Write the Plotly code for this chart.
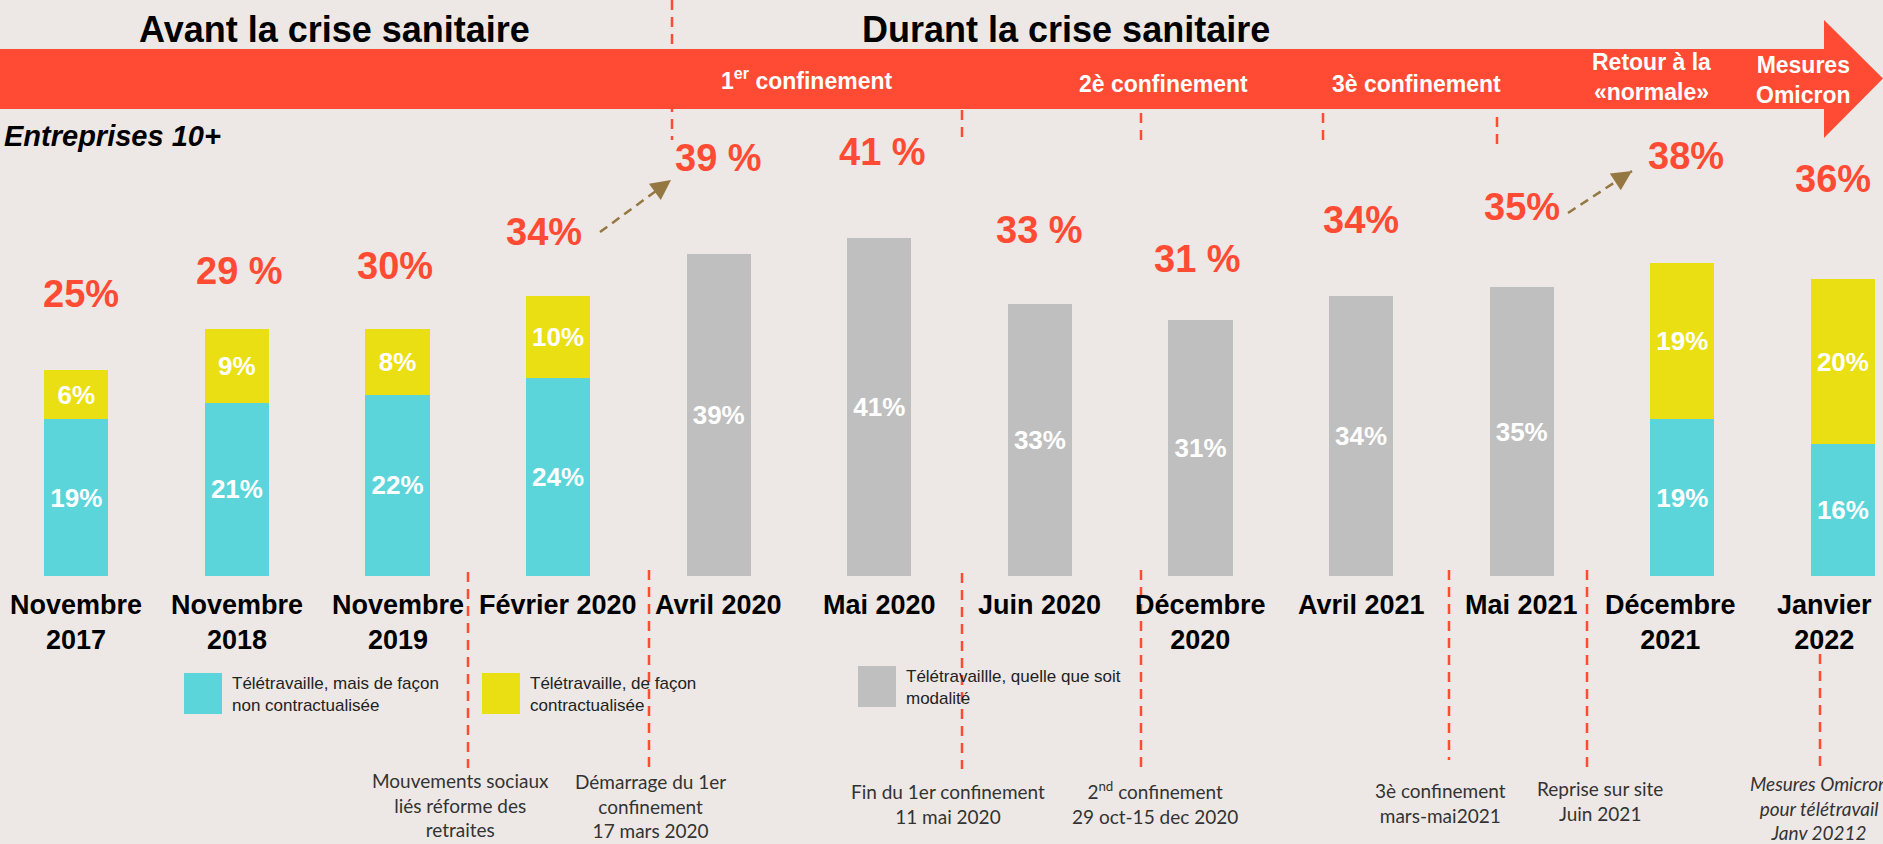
import plotly.graph_objects as go

# --- données ---
periodes = ["Novembre<br>2017", "Novembre<br>2018", "Novembre<br>2019", "Février 2020",
            "Avril 2020", "Mai 2020", "Juin 2020", "Décembre<br>2020",
            "Avril 2021", "Mai 2021", "Décembre<br>2021", "Janvier<br>2022"]
non_contract = [19, 21, 22, 24, None, None, None, None, None, None, 19, 16]
contract = [6, 9, 8, 10, None, None, None, None, None, None, 19, 20]
quelle_que_soit = [None, None, None, None, 39, 41, 33, 31, 34, 35, None, None]
totaux = ["25%", "29 %", "30%", "34%", "39 %", "41 %", "33 %", "31 %", "34%", "35%", "38%", "36%"]

# --- mise en page ---
W, H = 1883, 844
BASE = 576        # ligne de base des barres (px)
SCALE = 8.25      # px par point de %
X0, STEP = 76.3, 160.6

BG = "#EDE8E5"
RED = "#FF4B33"
CYAN = "#5BD5DA"
YELLOW = "#EADF12"
GREY = "#BFBFBF"
BROWN = "#957741"
FONT = "Liberation Sans, Arial, sans-serif"
NOTE_FONT = "Lato, Carlito, sans-serif"

# décalages (px) des totaux et des libellés
total_lift = [76, 58, 63, 64, 96, 86, 74, 61, 76, 80, 107, 100]
total_shift = [5, 3, -3, -14, 0, 3, 0, -3, 0, 0, 4, -10]
label_shift = [0, 0, 0, 0, 0, 0, 0, 0, 0, 0, -12, -18]


def px(x):
    return x / W


def py(y):
    return 1 - y / H


fig = go.Figure()

for name, vals, col in [("Télétravaille, mais de façon non contractualisée", non_contract, CYAN),
                        ("Télétravaille, de façon contractualisée", contract, YELLOW),
                        ("Télétravaillle, quelle que soit modalité", quelle_que_soit, GREY)]:
    fig.add_trace(go.Bar(
        x=list(range(len(periodes))),
        y=vals,
        name=name,
        width=0.4,
        marker=dict(color=col, line=dict(width=0)),
        text=[f"<b>{v}%</b>" if v is not None else "" for v in vals],
        textposition="inside",
        insidetextanchor="middle",
        textangle=0,
        constraintext="none",
        textfont=dict(color="white", size=26, family=FONT),
        hoverinfo="skip",
        showlegend=False,
    ))

annotations = []
shapes = []

# totaux et libellés de périodes
for i, lab in enumerate(periodes):
    top = sum(v for v in (non_contract[i], contract[i], quelle_que_soit[i]) if v is not None)
    annotations.append(dict(x=i, y=top, xref="x", yref="y", text=f"<b>{totaux[i]}</b>",
                            showarrow=False, yanchor="middle", yshift=total_lift[i],
                            xshift=total_shift[i],
                            font=dict(color=RED, size=38, family=FONT)))
    annotations.append(dict(x=i, y=0, xref="x", yref="y", text=f"<b>{lab}</b>",
                            showarrow=False, yanchor="top", yshift=-12, xshift=label_shift[i],
                            font=dict(color="black", size=27, family=FONT)))

# lignes pointillées rouges
dashes = [(672, 0, 140), (962, 110, 138), (1141, 113, 142), (1323, 113, 140), (1497, 117, 146),
          (468, 572, 768), (649, 570, 767), (962, 573, 769), (1141, 570, 767),
          (1449, 570, 760), (1587, 570, 767), (1820, 637, 771)]
for x, y0, y1 in dashes:
    shapes.append(dict(type="line", xref="paper", yref="paper", x0=px(x), x1=px(x),
                       y0=py(y0), y1=py(y1), line=dict(color=RED, width=2.5, dash="10px,7px")))

# flèche chronologique
pts = [(0, 49), (1824, 49), (1824, 20), (1883, 78.5), (1824, 138), (1824, 109), (0, 109)]
path = "M " + " L ".join(f"{px(a):.5f},{py(b):.5f}" for a, b in pts) + " Z"
shapes.append(dict(type="path", xref="paper", yref="paper", path=path,
                   fillcolor=RED, line=dict(width=0)))

# légende
for (x0, y0), col, txt in [((184, 673), CYAN, "Télétravaille, mais de façon<br>non contractualisée"),
                           ((482, 673), YELLOW, "Télétravaille, de façon<br>contractualisée"),
                           ((858, 666), GREY, "Télétravaillle, quelle que soit<br>modalité")]:
    shapes.append(dict(type="rect", xref="paper", yref="paper", x0=px(x0), x1=px(x0 + 38),
                       y0=py(y0), y1=py(y0 + 41), fillcolor=col, line=dict(width=0)))
    annotations.append(dict(x=px(x0 + 46), y=py(y0 + 21), xref="paper", yref="paper", text=txt,
                            showarrow=False, xanchor="left", yanchor="middle", align="left",
                            font=dict(color="#222222", size=17, family=FONT)))

# flèches brunes pointillées
for (xa, ya), (xb, yb) in [((600, 232), (671, 180)), ((1568, 213), (1632, 171))]:
    shapes.append(dict(type="line", xref="paper", yref="paper", x0=px(xa), y0=py(ya),
                       x1=px(xb), y1=py(yb), line=dict(color=BROWN, width=2.5, dash="9px,6px")))
    d = ((xa - xb) ** 2 + (ya - yb) ** 2) ** 0.5
    annotations.append(dict(x=px(xb), y=py(yb), xref="paper", yref="paper", text="",
                            showarrow=True, ax=(xa - xb) / d * 14, ay=(ya - yb) / d * 14,
                            arrowhead=2, arrowsize=1.6, arrowwidth=2.5, arrowcolor=BROWN))

# textes fixes
texts = [
    ("<b>Avant la crise sanitaire</b>", 334, 29, 36, "black", "center", FONT),
    ("<b>Durant la crise sanitaire</b>", 1066, 29, 36, "black", "center", FONT),
    ("<b><i>Entreprises 10+</i></b>", 2, 136, 29, "black", "left", FONT),
    ("<b>1<sup>er</sup> confinement</b>", 806, 79, 23, "white", "center", FONT),
    ("<b>2è confinement</b>", 1163, 84, 23, "white", "center", FONT),
    ("<b>3è confinement</b>", 1416, 84, 23, "white", "center", FONT),
    ("<b>Retour à la<br>«normale»</b>", 1651, 77, 23, "white", "center", FONT),
    ("<b>Mesures<br>Omicron</b>", 1803, 80, 23, "white", "center", FONT),
    ("Mouvements sociaux<br>liés réforme des<br>retraites", 460, 805, 19, "#333333", "center", NOTE_FONT),
    ("Démarrage du 1er<br>confinement<br>17 mars 2020", 650, 806, 19, "#333333", "center", NOTE_FONT),
    ("Fin du 1er confinement<br>11 mai 2020", 948, 804, 19, "#333333", "center", NOTE_FONT),
    ("2<sup>nd</sup> confinement<br>29 oct-15 dec 2020", 1155, 803, 19, "#333333", "center", NOTE_FONT),
    ("3è confinement<br>mars-mai2021", 1440, 803, 19, "#333333", "center", NOTE_FONT),
    ("Reprise sur site<br>Juin 2021", 1600, 801, 19, "#333333", "center", NOTE_FONT),
    ("<i>Mesures Omicron<br>pour télétravail<br>Janv 20212</i>", 1819, 808, 19, "#333333", "center", NOTE_FONT),
]
for txt, x, y, size, col, anchor, fam in texts:
    annotations.append(dict(x=px(x), y=py(y), xref="paper", yref="paper", text=txt,
                            showarrow=False, xanchor=anchor, yanchor="middle", align=anchor,
                            font=dict(color=col, size=size, family=fam)))

fig.update_layout(
    width=W, height=H,
    margin=dict(l=0, r=0, t=0, b=0),
    paper_bgcolor=BG, plot_bgcolor=BG,
    barmode="stack",
    showlegend=False,
    shapes=shapes,
    annotations=annotations,
    xaxis=dict(range=[-X0 / STEP, (W - X0) / STEP], visible=False, fixedrange=True),
    yaxis=dict(range=[-(H - BASE) / SCALE, BASE / SCALE], visible=False, fixedrange=True),
)

# page sans marge pour que la figure occupe toute la fenêtre
fig.write_html("out.html",
               config={"displayModeBar": False},
               post_script="document.body.style.margin='0';"
                           "document.body.style.overflow='hidden';"
                           "document.body.style.background='#EDE8E5';")
